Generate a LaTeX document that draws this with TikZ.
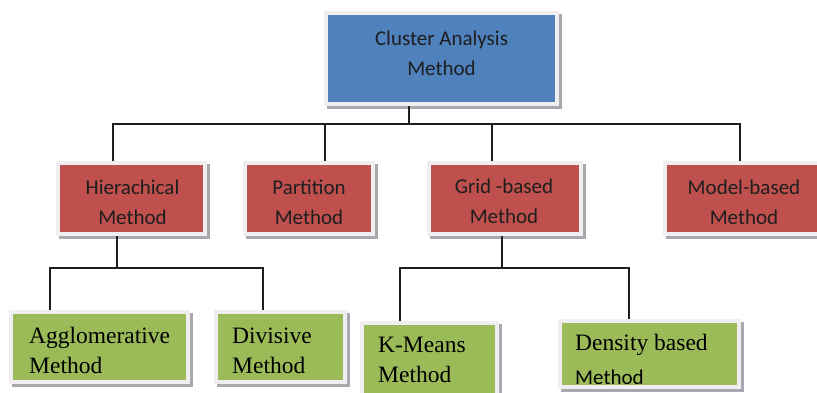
\documentclass[tikz,border=0pt]{standalone}
\usepackage{fontspec}
\setmainfont{Liberation Serif}
\newfontfamily\calibri{Carlito}
\definecolor{boxblue}{HTML}{4F81BD}
\definecolor{boxred}{HTML}{C0504D}
\definecolor{boxgreen}{HTML}{9BBB59}
\definecolor{framec}{HTML}{F0EEF0}
\definecolor{shadowc}{HTML}{A8A8AE}
\definecolor{inkc}{HTML}{1E1E1E}
\tikzset{
  frame/.style={fill=framec},
  shadebox/.style={fill=shadowc},
  boxshape/.style={rectangle, inner sep=0pt, draw=none},
  conn/.style={draw=inkc, line width=1.1pt},
  sanstext/.style={inner sep=0pt, text=inkc, font=\calibri\fontsize{21}{30}\selectfont},
  seriftext/.style={inner sep=0pt, text=black, font=\fontsize{23.5}{30}\selectfont},
}
\newcommand\mkbox[6]{%
  \fill[shadebox] (#2-1,#3-1) rectangle (#4+7,#5+7);
  \fill[frame] (#2-4,#3-4) rectangle (#4+4,#5+4);
  \node[boxshape, fill=#6, minimum width={#4-#2}, minimum height={#5-#3}] (#1) at ({(#2+#4)/2},{(#3+#5)/2}) {};
}
\begin{document}
\begin{tikzpicture}[x=1pt, y=-1pt]
\useasboundingbox (0,0) rectangle (817,392);
\clip (0,0) rectangle (817,392);
\fill[white] (0,0) rectangle (817,392);

% boxes
\mkbox{top}{328}{15}{555}{102}{boxblue}
\mkbox{hier}{60}{165}{203}{232}{boxred}
\mkbox{part}{247}{165}{371}{232}{boxred}
\mkbox{grid}{431}{165}{579}{232}{boxred}
\mkbox{model}{667}{165}{821}{232}{boxred}
\mkbox{agg}{13}{314}{186}{380}{boxgreen}
\mkbox{div}{218}{314}{343}{380}{boxgreen}
\mkbox{km}{364}{325}{495}{420}{boxgreen}
\mkbox{dens}{562}{323}{737}{385}{boxgreen}

% texts
\node[sanstext, anchor=base] (top-t) at (441.5,45) {\begin{tabular}[t]{@{}c@{}}Cluster Analysis\\Method\end{tabular}};
\node[sanstext, anchor=base] (hier-t) at (132.5,194) {\begin{tabular}[t]{@{}c@{}}Hierachical\\Method\end{tabular}};
\node[sanstext, anchor=base] (part-t) at (309,194) {\begin{tabular}[t]{@{}c@{}}Partition\\Method\end{tabular}};
\node[sanstext, anchor=base] (grid-t) at (504,193) {\begin{tabular}[t]{@{}c@{}}Grid -based\\Method\end{tabular}};
\node[sanstext, anchor=base] (model-t) at (744,194) {\begin{tabular}[t]{@{}c@{}}Model-based\\Method\end{tabular}};
\node[seriftext, anchor=base west] (agg-t) at (29,343) {\begin{tabular}[t]{@{}l@{}}Agglomerative\\Method\end{tabular}};
\node[seriftext, anchor=base west] (div-t) at (232,343) {\begin{tabular}[t]{@{}l@{}}Divisive\\Method\end{tabular}};
\node[seriftext, anchor=base west] (km-t) at (378,352) {\begin{tabular}[t]{@{}l@{}}K-Means\\Method\end{tabular}};
\begin{scope}
  \clip (562,323) rectangle (737,385);
  \node[seriftext, anchor=base west] (dens-t) at (575,350) {\begin{tabular}[t]{@{}l@{}}Density based\\[4pt]{\calibri\fontsize{21}{30}\selectfont Method}\end{tabular}};
\end{scope}

% connector points
\path ([xshift=-32.5pt,yshift=-4pt]top.south) coordinate (top-out);
\coordinate (bus) at (409,124);
\path ([xshift=-18.5pt,yshift=4pt]hier.north) coordinate (hier-in);
\path ([xshift=16pt,yshift=4pt]part.north) coordinate (part-in);
\path ([xshift=-13pt,yshift=4pt]grid.north) coordinate (grid-in);
\path ([xshift=-4pt,yshift=4pt]model.north) coordinate (model-in);
\path ([xshift=-14.5pt,yshift=-4pt]hier.south) coordinate (hier-out);
\coordinate (hbus) at (117,268);
\path ([xshift=-49.5pt,yshift=4pt]agg.north) coordinate (agg-in);
\path ([xshift=-17.5pt,yshift=4pt]div.north) coordinate (div-in);
\path ([xshift=-3pt,yshift=-4pt]grid.south) coordinate (grid-out);
\coordinate (gbus) at (502,268);
\path ([xshift=-29.5pt,yshift=4pt]km.north) coordinate (km-in);
\path ([xshift=-20.5pt,yshift=4pt]dens.north) coordinate (dens-in);

% connectors
\draw[conn] (top-out) -- (bus);
\draw[conn] (hier-in) |- (bus) -| (model-in);
\draw[conn] (part-in) -- (part-in |- bus);
\draw[conn] (grid-in) -- (grid-in |- bus);
\draw[conn] (hier-out) -- (hbus);
\draw[conn] (agg-in) |- (hbus) -| (div-in);
\draw[conn] (grid-out) -- (gbus);
\draw[conn] (km-in) |- (gbus) -| (dens-in);
\end{tikzpicture}
\end{document}
